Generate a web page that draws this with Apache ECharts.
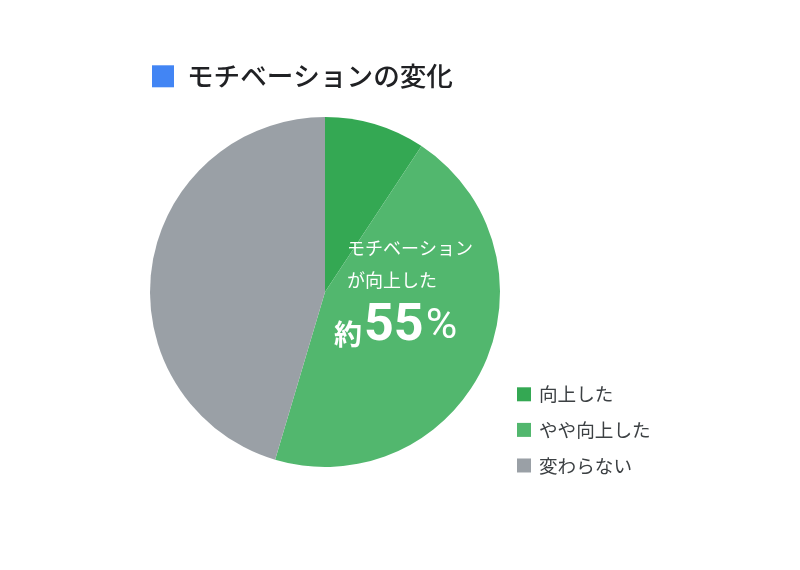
<!doctype html>
<html>
<head>
<meta charset="UTF-8">
<title></title>
<style>
  html, body { margin: 0; padding: 0; background: #fff; }
  #chart { width: 800px; height: 570px; }
</style>
</head>
<body>
<div id="chart"></div>
<script src="https://cdn.jsdelivr.net/npm/echarts@6/dist/echarts.min.js"></script>
<script>
var titleText = 'モチベーションの変化';
var categories = ['向上した', 'やや向上した', '変わらない'];
var values = [9.3, 45.3, 45.4];
var colors = ['#34a853', '#52b76e', '#9aa0a6'];
var noteLines = ['モチベーション', 'が向上した'];
var notePrefix = '約';
var noteNumber = '55';
var noteUnit = '%';

var font = '"Noto Sans CJK JP", "Noto Sans", sans-serif';

var pieData = [];
for (var i = 0; i < categories.length; i++) {
  pieData.push({ name: categories[i], value: values[i], itemStyle: { color: colors[i] } });
}

var chart = echarts.init(document.getElementById('chart'));
chart.setOption({
  animation: false,
  title: [{
    text: '{sq|}{t|' + titleText + '}',
    left: 147, top: 58,
    textStyle: {
      rich: {
        sq: { width: 22, height: 22, backgroundColor: '#4285f4' },
        t: { fontSize: 26.6, fontFamily: font, color: '#202124', padding: [0, 0, 0, 13], fontWeight: 500 }
      }
    }
  }, {
    text: noteLines.join('\n'),
    left: 342, top: 227,
    textStyle: { fontSize: 18, fontFamily: font, color: '#ffffff', fontWeight: 'normal', lineHeight: 32 }
  }, {
    text: '{p|' + notePrefix + '}{v|' + noteNumber + '}{u|' + noteUnit + '}',
    left: 329, top: 296,
    textStyle: {
      rich: {
        p: { fontSize: 28, fontFamily: font, color: '#ffffff', verticalAlign: 'bottom', padding: [0, 2, 5, 0] },
        v: { fontSize: 52, fontFamily: 'Roboto, "Noto Sans", sans-serif', color: '#ffffff', fontWeight: 'bold' },
        u: { fontSize: 43, fontFamily: 'Roboto, "Noto Sans", sans-serif', color: '#ffffff', fontWeight: 'normal', verticalAlign: 'bottom', padding: [0, 0, 4, 2] }
      }
    }
  }],
  legend: {
    orient: 'vertical',
    left: 512, top: 380,
    icon: 'rect',
    itemWidth: 14, itemHeight: 14,
    itemGap: 17,
    selectedMode: false,
    textStyle: { fontSize: 18.6, fontFamily: font, color: '#3c4043', padding: [0, 0, 0, 3] },
    data: categories
  },
  series: [{
    type: 'pie',
    center: [325, 292],
    radius: 175,
    startAngle: 90,
    clockwise: true,
    label: { show: false },
    labelLine: { show: false },
    emphasis: { disabled: true },
    itemStyle: { borderWidth: 0 },
    data: pieData,
    z: 1
  }]
});
</script>
</body>
</html>
